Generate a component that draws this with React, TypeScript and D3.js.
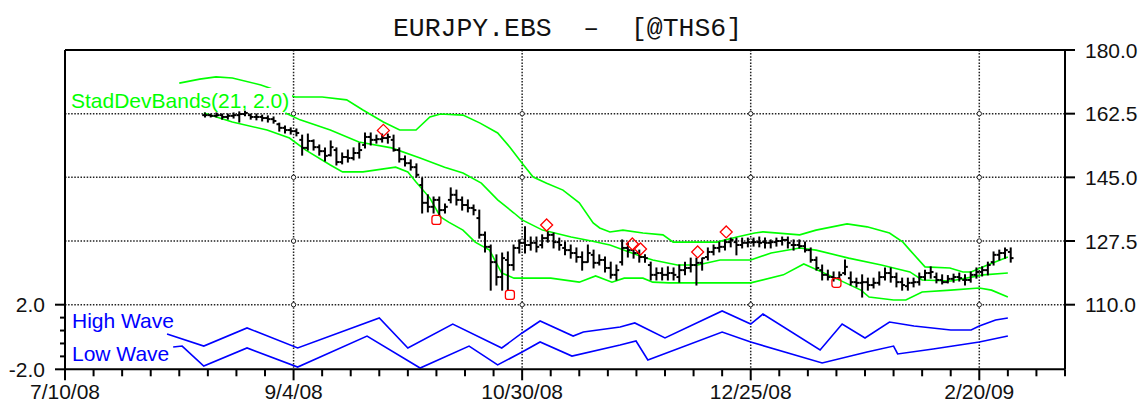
import React from "react";
import * as d3 from "d3";

// ---------- DATA ----------
const START = new Date(2008, 6, 10); // 7/10/08, day 0 of the axis
const TOTAL_DAYS = 245; // axis runs to 3/12/09
const xTickLabels = ["7/10/08", "9/4/08", "10/30/08", "12/25/08", "2/20/09"];
const xTickLabelDays = [0, 56, 112, 168, 224];
const priceTicks = [180, 162.5, 145, 127.5, 110];
const priceGrid = [162.5, 145, 127.5];
const waveTicks = [2, -2];
const waveMinorTicks = [1.2, 0.4, -0.4, -1.2];

// daily trading bars (weekdays) 8/13/08 .. 2/26/09
const barDates = d3.timeDay
  .range(new Date(2008, 7, 13), new Date(2009, 1, 27))
  .filter((d) => d.getDay() !== 0 && d.getDay() !== 6);

// [open, high, low, close]
const ohlc: number[][] = [
  [162.1, 162.7, 161.6, 162.1], [162.1, 162.4, 161.6, 161.9], [161.9, 162.7, 161.6, 162.1],
  [162.1, 162.4, 161.0, 161.6], [161.6, 162.4, 161.0, 161.9], [161.9, 162.7, 161.3, 162.1],
  [162.1, 163.0, 160.2, 162.4], [162.4, 163.2, 161.9, 162.7], [162.1, 162.4, 161.0, 161.6],
  [161.6, 162.4, 160.8, 161.6], [161.6, 162.1, 160.5, 161.3], [161.3, 161.9, 160.2, 161.0],
  [161.0, 161.6, 159.9, 160.5], [159.6, 159.9, 157.7, 158.6], [158.6, 159.1, 157.2, 158.0],
  [158.0, 158.6, 156.9, 157.7], [157.7, 158.3, 156.4, 157.2], [155.3, 156.6, 151.1, 153.1],
  [153.1, 156.9, 152.5, 155.0], [155.0, 155.3, 152.5, 153.3], [153.3, 153.9, 151.1, 152.2],
  [152.2, 153.1, 149.5, 150.9], [151.1, 155.0, 150.9, 153.3], [152.5, 153.1, 148.4, 149.2],
  [149.2, 151.7, 148.7, 150.6], [150.6, 152.5, 149.2, 150.3], [150.3, 153.1, 149.8, 151.7],
  [151.7, 154.4, 150.3, 152.5], [153.9, 157.2, 153.1, 156.1], [156.1, 157.2, 153.9, 155.3],
  [155.3, 156.6, 154.4, 155.5], [155.5, 156.9, 154.7, 155.8], [155.8, 156.9, 154.4, 156.1],
  [155.3, 156.6, 152.2, 152.5], [152.5, 153.1, 149.2, 150.0], [150.0, 150.9, 148.1, 148.9],
  [148.9, 149.8, 147.0, 147.8], [147.8, 148.7, 145.1, 145.7], [142.9, 144.8, 135.2, 138.0],
  [138.0, 140.2, 135.5, 136.9], [136.9, 139.6, 135.2, 138.8], [138.8, 139.6, 134.7, 136.0],
  [136.0, 137.7, 135.2, 136.9], [138.8, 142.1, 138.0, 140.2], [140.2, 141.5, 137.4, 138.8],
  [138.8, 139.6, 136.0, 137.4], [137.4, 138.8, 135.5, 136.6], [136.6, 137.4, 134.7, 136.0],
  [133.8, 136.0, 128.3, 129.2], [129.2, 130.0, 124.5, 125.9], [125.9, 126.4, 114.0, 121.7],
  [121.7, 123.7, 115.4, 117.6], [117.6, 124.2, 114.0, 122.8], [122.3, 124.5, 114.0, 120.9],
  [120.9, 126.4, 119.5, 125.6], [125.6, 127.8, 124.2, 127.0], [127.0, 131.4, 124.2, 126.4],
  [126.4, 128.6, 125.0, 127.0], [127.0, 128.6, 124.5, 125.9], [126.4, 129.2, 125.6, 128.3],
  [128.3, 130.0, 127.2, 129.2], [129.2, 129.7, 125.6, 127.2], [127.2, 128.3, 125.0, 126.4],
  [125.6, 127.2, 123.7, 125.0], [125.0, 126.4, 122.8, 124.2], [124.2, 125.6, 121.7, 123.1],
  [123.1, 124.5, 119.5, 121.7], [121.7, 126.4, 121.7, 124.2], [123.7, 125.0, 120.1, 121.5],
  [121.5, 123.7, 120.9, 122.3], [122.3, 123.1, 119.0, 120.1], [120.1, 121.7, 117.3, 118.2],
  [118.2, 120.9, 116.8, 119.5], [121.7, 127.8, 120.9, 125.6], [125.6, 127.0, 123.1, 125.0],
  [125.0, 125.0, 122.8, 124.2], [124.2, 125.0, 121.7, 123.1], [123.1, 123.7, 121.7, 122.8],
  [120.9, 121.7, 116.8, 118.2], [118.2, 120.1, 116.8, 118.7], [118.7, 120.1, 116.8, 118.2],
  [118.2, 120.4, 116.8, 118.7], [118.7, 120.1, 116.8, 118.2], [117.6, 120.9, 116.2, 119.5],
  [119.5, 121.7, 118.2, 120.1], [120.1, 122.8, 119.0, 120.9], [120.9, 122.8, 115.4, 121.5],
  [121.5, 122.8, 119.5, 122.8], [123.1, 125.6, 122.3, 124.5], [124.5, 126.4, 123.7, 125.6],
  [125.6, 127.2, 124.5, 125.9], [125.9, 127.8, 125.0, 127.2], [127.2, 128.3, 125.9, 127.8],
  [127.2, 128.3, 123.7, 126.4], [126.4, 128.3, 125.6, 127.0], [127.0, 128.3, 125.9, 127.2],
  [127.2, 128.3, 126.1, 127.2], [127.2, 128.6, 125.9, 127.0], [127.2, 128.3, 125.6, 127.0],
  [127.0, 127.8, 125.6, 127.2], [127.2, 128.3, 126.1, 127.5], [127.5, 128.6, 126.4, 127.8],
  [127.8, 128.6, 125.6, 127.0], [126.4, 127.8, 125.0, 126.4], [126.4, 127.8, 125.6, 126.1],
  [126.1, 127.2, 124.5, 125.0], [125.0, 125.6, 121.7, 122.3], [122.3, 123.1, 119.5, 120.1],
  [119.5, 120.9, 116.8, 118.2], [118.2, 119.5, 116.8, 117.6], [117.6, 119.0, 116.5, 117.3],
  [117.3, 119.0, 117.1, 118.2], [118.7, 122.3, 118.2, 120.4], [117.3, 119.0, 115.4, 116.2],
  [116.2, 117.3, 114.9, 116.0], [116.0, 118.2, 112.1, 116.2], [116.2, 117.3, 114.0, 115.4],
  [115.4, 117.3, 114.6, 116.0], [116.0, 119.0, 115.4, 117.6], [117.6, 120.1, 116.8, 118.7],
  [118.7, 120.1, 116.2, 117.6], [117.6, 118.7, 114.9, 116.2], [116.2, 117.3, 114.0, 115.4],
  [115.1, 117.3, 114.0, 116.0], [116.0, 117.3, 114.9, 116.2], [116.2, 118.7, 115.4, 117.6],
  [117.6, 119.5, 116.8, 118.7], [118.7, 120.4, 117.3, 119.0], [117.6, 118.7, 116.0, 116.8],
  [116.8, 118.2, 115.7, 116.2], [116.2, 118.0, 116.0, 117.1], [117.1, 118.4, 116.2, 117.6],
  [117.6, 118.7, 116.5, 117.3], [116.8, 118.2, 115.4, 116.8], [116.8, 119.0, 116.2, 118.2],
  [118.2, 120.1, 117.3, 119.0], [119.0, 120.4, 117.9, 119.5], [119.5, 121.7, 118.2, 120.9],
  [121.7, 124.5, 120.9, 123.7], [123.7, 125.0, 122.3, 124.2], [124.2, 125.6, 122.8, 125.0],
  [124.5, 125.6, 121.7, 122.8],
];

// StadDevBands(21, 2.0): [day, price]
const upperBand: number[][] = [
  [28, 170.9], [33, 172.0], [37, 172.6], [41, 172.3], [48, 170.4], [56.4, 167.1], [63, 167.1],
  [69, 166.3], [73, 163.5], [78, 160.2], [82, 158.0], [86, 158.0], [89.4, 161.6], [92, 162.4],
  [97.5, 162.1], [101.7, 159.9], [106, 157.2], [109, 153.3], [112, 148.9], [114.7, 145.1],
  [118, 143.4], [122, 141.5], [126, 138.0], [129.4, 132.5], [131, 131.1], [133.5, 130.0],
  [136.7, 130.5], [141.6, 129.7], [146.5, 129.2], [149, 127.2], [159.7, 127.2], [164.6, 128.6],
  [169, 129.7], [171, 130.0], [180, 129.2], [184, 130.5], [191.6, 132.2], [196.5, 131.4],
  [202, 129.7], [205.3, 127.2], [207, 125.0], [210.7, 120.4], [216.8, 120.1], [220, 119.0],
  [222, 119.0], [226, 120.9], [231, 123.1],
];
const middleBand: number[][] = [
  [54, 162.7], [57.6, 160.8], [65, 158.0], [72, 154.7], [80, 153.1], [87, 150.3], [93, 147.8],
  [97.5, 146.2], [102, 143.4], [106, 138.8], [110, 135.2], [112, 133.3], [117, 130.5],
  [124, 128.6], [129, 127.5], [133.5, 126.4], [141.6, 123.1], [144, 122.3], [150, 120.9],
  [155, 120.9], [160.5, 122.3], [168, 122.3], [173, 124.2], [180, 125.6], [184, 125.0],
  [192, 122.8], [200, 120.9], [207, 119.0], [210, 116.8], [217, 116.5], [225, 118.2],
  [231, 118.7],
];
const lowerBand: number[][] = [
  [34, 162.7], [41, 160.2], [49.5, 158.0], [55, 155.8], [59, 152.5], [65, 148.4], [68, 146.5],
  [73, 146.5], [81, 147.8], [84, 146.5], [86, 143.7], [89.4, 139.3], [92, 134.1], [94, 132.7],
  [97.5, 130.5], [100.5, 127.2], [104, 125.0], [107, 118.7], [110, 117.3], [119, 117.3],
  [126, 116.2], [130, 117.9], [134, 116.2], [137, 117.3], [141.6, 117.3], [144, 116.2],
  [148, 116.0], [168, 116.0], [176, 118.2], [181, 121.2], [187, 118.2], [195, 114.0],
  [197, 112.1], [203, 111.3], [206, 111.3], [210, 113.5], [217, 114.0], [224, 114.6],
  [227, 114.0], [231, 112.1],
];

// Wave indicator: [day, value]
const highWave: number[][] = [
  [25, 0.19], [34, -0.56], [44.6, 0.56], [57, -0.68], [77, 1.18], [84, -0.68], [95, 0.8],
  [107, -0.68], [112, 0.25], [116.4, 0.99], [124.5, 0.06], [127, 0.31], [136, 0.62],
  [139.6, 0.87], [147, -0.06], [161, 1.61], [168, 0.8], [171, 1.42], [185, -0.8],
  [190.4, 0.8], [196, -0.06], [202, 0.93], [208, 0.68], [217, 0.43], [222, 0.43],
  [224, 0.68], [228, 1.05], [231, 1.18],
];
const lowWave: number[][] = [
  [26.5, -0.62], [28.7, -0.56], [34, -1.8], [44.6, -0.68], [57, -1.86], [74, 0.06],
  [87, -1.92], [99, -0.56], [106, -1.73], [112, -0.93], [116.4, -0.31], [124.2, -1.18],
  [136, -0.5], [139.9, -0.25], [142.8, -1.42], [161, 0.31], [168, -0.31], [185.5, -1.61],
  [196.5, -0.93], [203, -0.56], [204, -1.05], [212.7, -0.74], [224, -0.31], [231, 0.06],
];

// signal markers
const highMarkDays = [78, 118, 139, 141, 155, 162];
const highMarkPrices = [157.9, 131.9, 126.7, 125.3, 124.5, 130.0];
const lowMarkDays = [91, 109, 189];
const lowMarkPrices = [133.3, 112.7, 116.0];

// ---------- CHART ----------
const W = 1141;
const H = 403;
const LEFT = 65;
const RIGHT = 1065;
const TOP = 50;
const MID = 304.7;
const BOTTOM = 369.3;

const FONT = "'Liberation Sans', Arial, Helvetica, sans-serif";
const GREEN = "#00ff00";
const BLUE = "#0000ff";
const RED = "#ff0000";

export default function App() {
  const x = d3.scaleLinear().domain([0, TOTAL_DAYS]).range([LEFT, RIGHT]);
  const yP = d3.scaleLinear().domain([110, 180]).range([MID, TOP]);
  const yW = d3.scaleLinear().domain([-2, 2]).range([BOTTOM, MID]);

  // trading bars sit evenly inside each calendar week (5 sessions per 7 days)
  const barPos = (d: Date) => {
    const monday = d3.timeMonday.floor(d);
    const wk = d3.timeDay.count(START, monday);
    const idx = d3.timeDay.count(monday, d); // 0..4
    return x(wk - 0.5 + idx * 1.4);
  };

  const priceLine = d3
    .line<number[]>()
    .x((d) => x(d[0]))
    .y((d) => yP(d[1]));
  const waveLine = d3
    .line<number[]>()
    .x((d) => x(d[0]))
    .y((d) => yW(d[1]));

  const weekTicks = d3.range(0, TOTAL_DAYS + 1, 7);
  const gridDays = xTickLabelDays.filter((d) => d > 0);
  const gridYs = [...priceGrid.map((p) => yP(p)), MID];

  const dotted = {
    stroke: "#222",
    strokeWidth: 1.5,
    strokeDasharray: "1.5 1.6",
  };

  return (
    <svg
      width={W}
      height={H}
      style={{ position: "absolute", left: 0, top: 0, background: "#fff" }}
    >
      <rect x={0} y={0} width={W} height={H} fill="#fff" />

      {/* title */}
      <text
        x={393}
        y={36}
        fontFamily="'Courier New', 'Liberation Mono', 'DejaVu Sans Mono', monospace"
        fontSize={26}
        fill="#111"
        textLength={349}
        lengthAdjust="spacingAndGlyphs"
        style={{ whiteSpace: "pre" }}
      >
        {"EURJPY.EBS  \u2013  [@THS6]"}
      </text>

      {/* grid */}
      {gridYs.map((gy, i) => (
        <line key={"hg" + i} x1={LEFT} x2={RIGHT} y1={gy} y2={gy} {...dotted} />
      ))}
      {gridDays.map((d, i) => (
        <line key={"vg" + i} x1={x(d)} x2={x(d)} y1={TOP} y2={BOTTOM} {...dotted} />
      ))}
      {gridDays.map((d) =>
        gridYs.map((gy, j) => (
          <circle
            key={"gi" + d + "_" + j}
            cx={x(d)}
            cy={gy}
            r={2.2}
            fill="#fff"
            stroke="#222"
            strokeWidth={1}
          />
        ))
      )}

      {/* bands */}
      {[upperBand, middleBand, lowerBand].map((b, i) => (
        <path key={"band" + i} d={priceLine(b) || ""} fill="none" stroke={GREEN} strokeWidth={1.6} />
      ))}

      {/* band label */}
      <rect x={68} y={88} width={224} height={23} fill="#fff" />
      <text x={71} y={108} fontFamily={FONT} fontSize={21} fill={GREEN}>
        StadDevBands(21, 2.0)
      </text>

      {/* OHLC bars */}
      {barDates.map((date, i) => {
        const b = ohlc[i];
        if (!b) return null;
        const bx = barPos(date);
        return (
          <g key={"bar" + i} stroke="#000" strokeWidth={2}>
            <line x1={bx} x2={bx} y1={yP(b[1]) - 0.5} y2={yP(b[2]) + 0.5} />
            <line x1={bx - 2.8} x2={bx} y1={yP(b[0])} y2={yP(b[0])} />
            <line x1={bx} x2={bx + 2.8} y1={yP(b[3])} y2={yP(b[3])} />
          </g>
        );
      })}

      {/* markers */}
      {highMarkDays.map((d, i) => {
        const cx = x(d);
        const cy = yP(highMarkPrices[i]);
        const r = 6;
        return (
          <path
            key={"hm" + i}
            d={`M${cx},${cy - r}L${cx + r},${cy}L${cx},${cy + r}L${cx - r},${cy}Z`}
            fill="none"
            stroke={RED}
            strokeWidth={1.3}
          />
        );
      })}
      {lowMarkDays.map((d, i) => (
        <rect
          key={"lm" + i}
          x={x(d) - 4.5}
          y={yP(lowMarkPrices[i]) - 4.5}
          width={9}
          height={9}
          rx={2.5}
          fill="none"
          stroke={RED}
          strokeWidth={1.3}
        />
      ))}

      {/* waves */}
      <path d={waveLine(highWave) || ""} fill="none" stroke={BLUE} strokeWidth={1.6} />
      <path d={waveLine(lowWave) || ""} fill="none" stroke={BLUE} strokeWidth={1.6} />
      <text x={72} y={328} fontFamily={FONT} fontSize={21} fill={BLUE}>
        High Wave
      </text>
      <text x={72} y={361} fontFamily={FONT} fontSize={21} fill={BLUE}>
        Low Wave
      </text>

      {/* frame */}
      <g stroke="#000" strokeWidth={2} fill="none">
        <line x1={LEFT} x2={RIGHT} y1={TOP} y2={TOP} />
        <line x1={LEFT} x2={LEFT} y1={TOP} y2={BOTTOM} />
        <line x1={RIGHT} x2={RIGHT} y1={TOP} y2={BOTTOM} />
        <line x1={LEFT} x2={RIGHT} y1={BOTTOM} y2={BOTTOM} />
      </g>

      {/* right price axis */}
      {priceTicks.map((p, i) => (
        <g key={"pt" + i}>
          <line x1={RIGHT} x2={RIGHT + 10} y1={yP(p)} y2={yP(p)} stroke="#000" strokeWidth={2} />
          <text
            x={1085}
            y={yP(p)}
            dy="0.36em"
            fontFamily={FONT}
            fontSize={21}
            fill="#111"
          >
            {p.toFixed(1)}
          </text>
        </g>
      ))}

      {/* left wave axis */}
      {waveTicks.map((v, i) => (
        <g key={"wt" + i}>
          <line x1={LEFT - 10} x2={LEFT} y1={yW(v)} y2={yW(v)} stroke="#000" strokeWidth={2} />
          <text
            x={45}
            y={yW(v)}
            dy="0.36em"
            textAnchor="end"
            fontFamily={FONT}
            fontSize={21}
            fill="#111"
          >
            {v.toFixed(1)}
          </text>
        </g>
      ))}
      {waveMinorTicks.map((v, i) => (
        <line key={"wm" + i} x1={LEFT - 5} x2={LEFT} y1={yW(v)} y2={yW(v)} stroke="#000" strokeWidth={2} />
      ))}

      {/* bottom date axis */}
      {weekTicks.map((d) => {
        const major = xTickLabelDays.includes(d);
        return (
          <line
            key={"xt" + d}
            x1={x(d)}
            x2={x(d)}
            y1={BOTTOM}
            y2={BOTTOM + (major ? 11 : 7)}
            stroke="#000"
            strokeWidth={2}
          />
        );
      })}
      {xTickLabels.map((lab, i) => (
        <text
          key={"xl" + i}
          x={x(xTickLabelDays[i])}
          y={399}
          textAnchor="middle"
          fontFamily={FONT}
          fontSize={21}
          fill="#111"
        >
          {lab}
        </text>
      ))}
    </svg>
  );
}
